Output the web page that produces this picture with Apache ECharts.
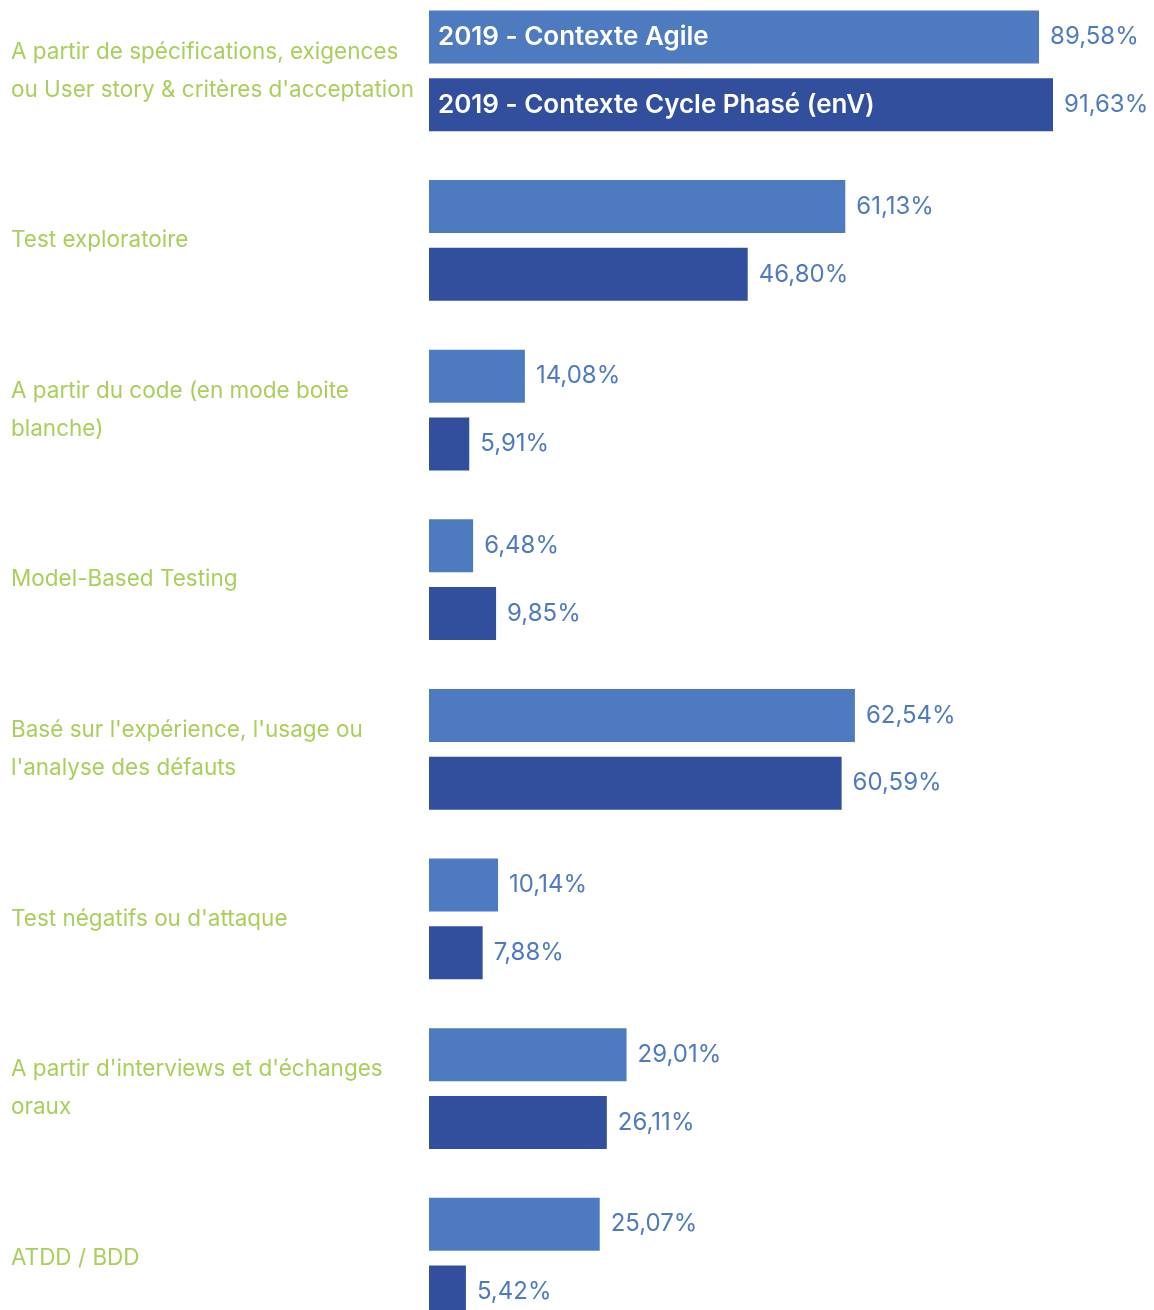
<!DOCTYPE html>
<html>
<head>
<meta charset="utf-8">
<script src="https://cdn.jsdelivr.net/npm/echarts@6/dist/echarts.min.js"></script>
<style>
  html, body { margin: 0; padding: 0; background: #fff; }
  #chart { width: 1154px; height: 1310px; }
</style>
</head>
<body>
<div id="chart"></div>
<script>
// categories (top to bottom)
const categories = [
  "A partir de spécifications, exigences\nou User story & critères d'acceptation",
  'Test exploratoire',
  'A partir du code (en mode boite\nblanche)',
  'Model-Based Testing',
  "Basé sur l'expérience, l'usage ou\nl'analyse des défauts",
  "Test négatifs ou d'attaque",
  "A partir d'interviews et d'échanges\noraux",
  'ATDD / BDD'
];
const seriesNames = ['2019 - Contexte Agile', '2019 - Contexte Cycle Phasé (enV)'];
const agileValues = [89.58, 61.13, 14.08, 6.48, 62.54, 10.14, 29.01, 25.07];
const envValues = [91.63, 46.80, 5.91, 9.85, 60.59, 7.88, 26.11, 5.42];

const colors = ['#4e7bbf', '#324f9d'];
const fontFamily = 'Inter, "Noto Sans", sans-serif';

// percent label like 89,58%
function pct(p) {
  return p.value.toFixed(2).replace('.', ',') + '%';
}

// only first category carries the series name inside the bar
function firstOnly(arr) {
  return arr.map((v, i) => (i === 0 ? v : '-'));
}

const chart = echarts.init(document.getElementById('chart'));

const barCommon = {
  type: 'bar',
  barWidth: 53,
  barGap: '28%',
  animation: false
};

const valueLabel = {
  show: true,
  position: 'right',
  distance: 11,
  color: '#4e7bbf',
  fontSize: 24,
  fontFamily: fontFamily,
  formatter: pct
};

const nameLabel = {
  show: true,
  position: 'insideLeft',
  distance: 9,
  color: '#fff',
  fontWeight: 600,
  fontSize: 26,
  fontFamily: fontFamily
};

const option = {
  grid: {
    left: 429,
    width: 681,
    top: -14,
    height: 1357,
    outerBoundsMode: 'none',
    containLabel: false
  },
  xAxis: [{
    type: 'value',
    min: 0,
    max: 100,
    show: false
  }],
  yAxis: [{
    type: 'category',
    data: categories,
    inverse: true,
    axisLine: { show: false },
    axisTick: { show: false },
    splitLine: { show: false },
    axisLabel: {
      align: 'left',
      margin: 418,
      color: '#a8cf5a',
      fontSize: 22.5,
      lineHeight: 38,
      fontFamily: fontFamily
    }
  }, {
    // overlay axis for series-name labels inside the first bars
    type: 'category',
    data: categories,
    inverse: true,
    show: false
  }],
  series: [
    Object.assign({}, barCommon, {
      name: seriesNames[0],
      data: agileValues,
      itemStyle: { color: colors[0] },
      label: valueLabel
    }),
    Object.assign({}, barCommon, {
      name: seriesNames[1],
      data: envValues,
      itemStyle: { color: colors[1] },
      label: valueLabel
    }),
    Object.assign({}, barCommon, {
      name: seriesNames[0] + ' label',
      yAxisIndex: 1,
      data: firstOnly(agileValues),
      itemStyle: { color: 'transparent' },
      silent: true,
      label: Object.assign({}, nameLabel, { formatter: seriesNames[0] })
    }),
    Object.assign({}, barCommon, {
      name: seriesNames[1] + ' label',
      yAxisIndex: 1,
      data: firstOnly(envValues),
      itemStyle: { color: 'transparent' },
      silent: true,
      label: Object.assign({}, nameLabel, { formatter: seriesNames[1] })
    })
  ]
};

chart.setOption(option);
window.addEventListener('resize', function () {
  chart.resize();
});
</script>
</body>
</html>
